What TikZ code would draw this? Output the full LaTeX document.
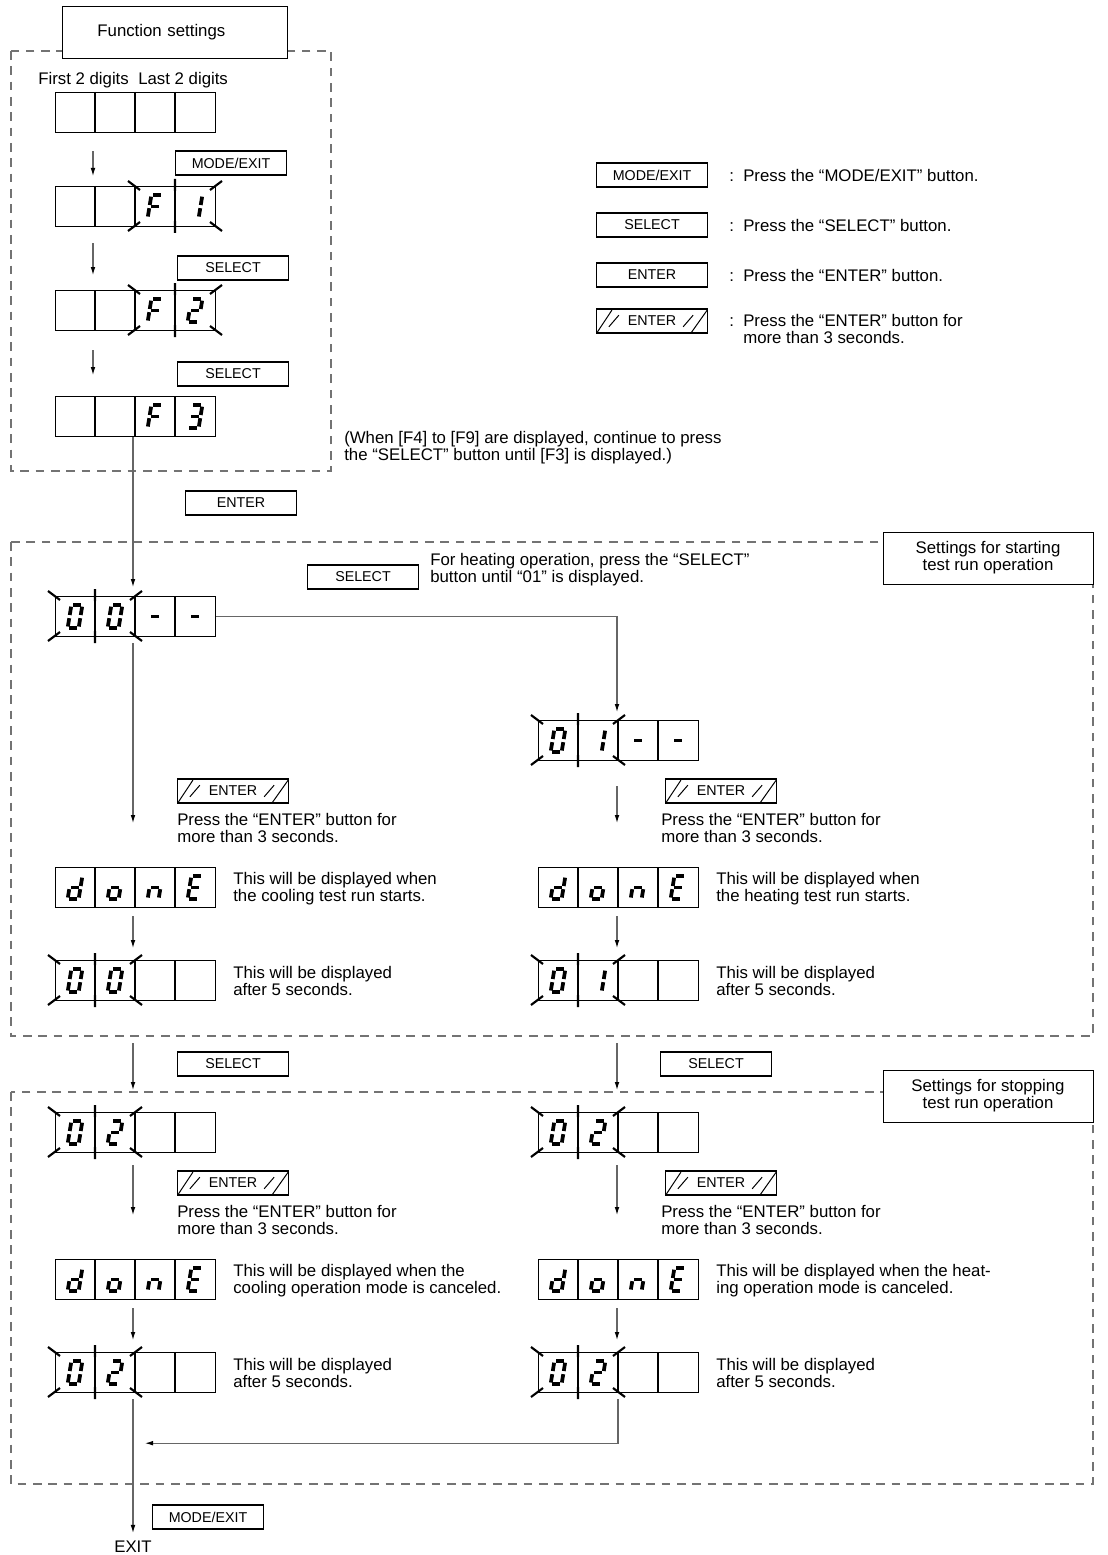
\documentclass[tikz,border=0pt]{standalone}
\usepackage{fontspec}
\setmainfont{Liberation Sans}
\usetikzlibrary{arrows.meta,calc,positioning}

\newcommand{\txtfont}{\fontsize{12.6}{12.9}\selectfont}
\newcommand{\btnfont}{\fontsize{10.7}{12}\selectfont}

% seven segment glyphs (segment end points)
\def\dgZero{TL/TR,TR/MR,MR/BR,BR/BL,BL/ML,ML/TL}
\def\dgOne{TR/MR,MR/BR}
\def\dgTwo{TL/TR,TR/MR,MR/ML,ML/BL,BL/BR}
\def\dgThree{TL/TR,TR/MR,ML/MR,MR/BR,BR/BL}
\def\dgF{TL/TR,TL/ML,ML/BL,ML/MR}
\def\dgDash{ML/MR}
\def\dgD{TR/MR,MR/BR,BR/BL,BL/ML,ML/MR}
\def\dgO{ML/MR,MR/BR,BR/BL,BL/ML}
\def\dgN{ML/MR,MR/BR,BL/ML}
\def\dgE{TL/TR,TL/ML,ML/MR,ML/BL,BL/BR}

\tikzset{
  dashbox/.style={draw=black!55, dash pattern=on 6.5pt off 5pt, line width=0.9pt},
  lcdbox/.style={draw, line width=0.9pt, minimum width=120pt, minimum height=30pt, inner sep=0pt, anchor=north west},
  cellline/.style={line width=0.9pt},
  seg/.style={line width=2.8pt, shorten <=1.2pt, shorten >=1.2pt},
  ray/.style={line width=1.6pt},
  btn/.style={draw, line width=1.2pt, minimum width=83pt, minimum height=18pt, inner sep=0pt, font=\btnfont},
  tagbox/.style={draw, line width=0.6pt, fill=white, font=\txtfont, align=center, inner sep=0pt},
  txt/.style={font=\txtfont, align=left, anchor=north west, inner sep=0pt},
  arr/.style={draw=black!60, line width=0.8pt, -{Latex[length=6pt,width=3.5pt,color=black]}},
  conn/.style={draw=black!60, line width=0.8pt},
}

% display with four cells
\newcommand{\lcd}[2]{%
  \node[lcdbox] (#1) at #2 {};
  \foreach \k in {1,2,3}
    \draw[cellline] ($(#1.north west)+(40*\k,0)$) -- ($(#1.south west)+(40*\k,0)$);
}
% one glyph in cell #2 of display #1
\newcommand{\lcddigit}[3]{%
  \begin{scope}[shift={($(#1.west)+(40*#2-20,0)$)}]
    \coordinate (TL) at (-3.6,-11.5);
    \coordinate (TR) at (7.4,-11.5);
    \coordinate (ML) at (-5.5,0);
    \coordinate (MR) at (5.5,0);
    \coordinate (BL) at (-7.4,11.5);
    \coordinate (BR) at (3.6,11.5);
    \foreach \p/\q in #3 {\draw[seg] (\p) -- (\q);}
  \end{scope}}
% blinking marks round two cells
\newcommand{\blink}[2]{%
  \begin{scope}[shift={($(#1.north west)+(#2,0)$)}]
    \draw[ray] (-7,-5) -- (5,4) (40,-7) -- (40,5) (87,-5) -- (75,4)
               (-7,45) -- (5,36) (40,47) -- (40,35) (87,45) -- (75,36);
  \end{scope}}
% ENTER held down
\newcommand{\hatchbtn}[2]{%
  \node[btn] (#1) at #2 {ENTER};
  \draw[line width=0.75pt] ($(#1.south west)+(1,-1)$) -- ($(#1.north west)+(16,2)$)
    ($(#1.south west)+(13,-7)$) -- ($(#1.north west)+(23,7)$)
    ($(#1.south east)+(-25,-7)$) -- ($(#1.north east)+(-15,7)$)
    ($(#1.south east)+(-17,-1)$) -- ($(#1.north east)+(-1,2)$);
}

\begin{document}
\begin{tikzpicture}[x=0.75pt,y=-0.75pt]
\useasboundingbox (0,0) rectangle (1107,1555);

% function settings
\draw[dashbox] (11,51) rectangle (331,471);
\node[tagbox, anchor=north west, minimum height=39pt, inner xsep=26.25pt, text width=116.25pt, align=left] (fs) at (62,6) {Function settings};
\node[txt, anchor=base west] (first) at (38,85) {First 2 digits};
\node[txt, anchor=base west] (last) at (138,85) {Last 2 digits};

\lcd{D0}{(55,92)}
\lcd{D1}{(55,186)} \lcddigit{D1}{3}{\dgF} \lcddigit{D1}{4}{\dgOne} \blink{D1}{80}
\lcd{D2}{(55,290)} \lcddigit{D2}{3}{\dgF} \lcddigit{D2}{4}{\dgTwo} \blink{D2}{80}
\lcd{D3}{(55,396)} \lcddigit{D3}{3}{\dgF} \lcddigit{D3}{4}{\dgThree}

\node[btn] (modeA) at (231,163) {MODE/EXIT};
\node[btn] (selA) at (233,268) {SELECT};
\node[btn] (selB) at (233,374) {SELECT};
\draw[arr] ($(D0.south west)+(38,18)$) -- ($(D1.north west)+(38,-10)$);
\draw[arr] ($(D1.south west)+(38,16)$) -- ($(D2.north west)+(38,-15)$);
\draw[arr] ($(D2.south west)+(38,19)$) -- ($(D3.north west)+(38,-21)$);
\node[txt] (note) at (344,431) {(When [F4] to [F9] are displayed, continue to press\\the “SELECT” button until [F3] is displayed.)};

% legend
\node[btn] (keyMode) at (652,175) {MODE/EXIT};
\node[btn] (keySel) at (652,225) {SELECT};
\node[btn] (keyEnt) at (652,275) {ENTER};
\hatchbtn{keyHold}{(652,321)}
\node[txt, anchor=west] (tMode) at (729,175) {:\ \ Press the “MODE/EXIT” button.};
\node[txt, anchor=west] (tSel) at (729,225) {:\ \ Press the “SELECT” button.};
\node[txt, anchor=west] (tEnt) at (729,275) {:\ \ Press the “ENTER” button.};
\node[txt, anchor=west] (tHold) at (729,329) {:\ \ Press the “ENTER” button for\\\hphantom{:\ \ }more than 3 seconds.};

% starting test run
\node[btn] (entA) at (241,503) {ENTER};
\draw[dashbox] (11,542) rectangle (1093,1036);
\node[tagbox, minimum width=157.5pt, minimum height=39pt] (startTag) at (988,558) {Settings for starting\\test run operation};
\node[btn] (selC) at (363,577) {SELECT};
\node[txt] (heatNote) at (430,553) {For heating operation, press the “SELECT”\\button until “01” is displayed.};

\lcd{S0}{(55,596)} \lcddigit{S0}{1}{\dgZero} \lcddigit{S0}{2}{\dgZero} \lcddigit{S0}{3}{\dgDash} \lcddigit{S0}{4}{\dgDash} \blink{S0}{0}
\lcd{S1}{(538,720)} \lcddigit{S1}{1}{\dgZero} \lcddigit{S1}{2}{\dgOne} \lcddigit{S1}{3}{\dgDash} \lcddigit{S1}{4}{\dgDash} \blink{S1}{0}
\draw[arr] ($(D3.south west)+(78,0)$) -- ($(S0.north west)+(78,-9)$);
\draw[arr] (S0.east) -| ($(S1.north west)+(79,-8)$);

\hatchbtn{holdA}{(233,791)}
\hatchbtn{holdB}{(721,791)}
\node[txt] (pressA) at (177,813) {Press the “ENTER” button for\\more than 3 seconds.};
\node[txt] (pressB) at (661,813) {Press the “ENTER” button for\\more than 3 seconds.};

\lcd{C0}{(55,867)} \lcddigit{C0}{1}{\dgD} \lcddigit{C0}{2}{\dgO} \lcddigit{C0}{3}{\dgN} \lcddigit{C0}{4}{\dgE}
\lcd{C1}{(538,867)} \lcddigit{C1}{1}{\dgD} \lcddigit{C1}{2}{\dgO} \lcddigit{C1}{3}{\dgN} \lcddigit{C1}{4}{\dgE}
\draw[arr] ($(S0.south west)+(78,6)$) -- ($(C0.north west)+(78,-44)$);
\draw[arr] ($(S1.south west)+(79,25)$) -- ($(C1.north west)+(79,-44)$);
\node[txt] (coolRun) at (233,872) {This will be displayed when\\the cooling test run starts.};
\node[txt] (heatRun) at (716,872) {This will be displayed when\\the heating test run starts.};

\lcd{R0}{(55,960)} \lcddigit{R0}{1}{\dgZero} \lcddigit{R0}{2}{\dgZero} \blink{R0}{0}
\lcd{R1}{(538,960)} \lcddigit{R1}{1}{\dgZero} \lcddigit{R1}{2}{\dgOne} \blink{R1}{0}
\draw[arr] ($(C0.south west)+(78,8)$) -- ($(R0.north west)+(78,-12)$);
\draw[arr] ($(C1.south west)+(79,8)$) -- ($(R1.north west)+(79,-12)$);
\node[txt] (waitA) at (233,966) {This will be displayed\\after 5 seconds.};
\node[txt] (waitB) at (716,966) {This will be displayed\\after 5 seconds.};

% stopping test run
\node[btn] (selD) at (233,1064) {SELECT};
\node[btn] (selE) at (716,1064) {SELECT};
\draw[dashbox] (11,1092) rectangle (1093,1484);
\node[tagbox, minimum width=157.5pt, minimum height=39pt] (stopTag) at (988,1096) {Settings for stopping\\test run operation};

\lcd{T0}{(55,1112)} \lcddigit{T0}{1}{\dgZero} \lcddigit{T0}{2}{\dgTwo} \blink{T0}{0}
\lcd{T1}{(538,1112)} \lcddigit{T1}{1}{\dgZero} \lcddigit{T1}{2}{\dgTwo} \blink{T1}{0}
\draw[arr] ($(R0.south west)+(78,42)$) -- ($(T0.north west)+(78,-22)$);
\draw[arr] ($(R1.south west)+(79,42)$) -- ($(T1.north west)+(79,-22)$);

\hatchbtn{holdC}{(233,1183)}
\hatchbtn{holdD}{(721,1183)}
\node[txt] (pressC) at (177,1205) {Press the “ENTER” button for\\more than 3 seconds.};
\node[txt] (pressD) at (661,1205) {Press the “ENTER” button for\\more than 3 seconds.};

\lcd{U0}{(55,1259)} \lcddigit{U0}{1}{\dgD} \lcddigit{U0}{2}{\dgO} \lcddigit{U0}{3}{\dgN} \lcddigit{U0}{4}{\dgE}
\lcd{U1}{(538,1259)} \lcddigit{U1}{1}{\dgD} \lcddigit{U1}{2}{\dgO} \lcddigit{U1}{3}{\dgN} \lcddigit{U1}{4}{\dgE}
\draw[arr] ($(T0.south west)+(78,12)$) -- ($(U0.north west)+(78,-44)$);
\draw[arr] ($(T1.south west)+(79,12)$) -- ($(U1.north west)+(79,-44)$);
\node[txt] (coolOff) at (233,1264) {This will be displayed when the\\cooling operation mode is canceled.};
\node[txt] (heatOff) at (716,1264) {This will be displayed when the heat-\\ing operation mode is canceled.};

\lcd{V0}{(55,1352)} \lcddigit{V0}{1}{\dgZero} \lcddigit{V0}{2}{\dgTwo} \blink{V0}{0}
\lcd{V1}{(538,1352)} \lcddigit{V1}{1}{\dgZero} \lcddigit{V1}{2}{\dgTwo} \blink{V1}{0}
\draw[arr] ($(U0.south west)+(78,8)$) -- ($(V0.north west)+(78,-12)$);
\draw[arr] ($(U1.south west)+(79,8)$) -- ($(V1.north west)+(79,-12)$);
\node[txt] (waitC) at (233,1358) {This will be displayed\\after 5 seconds.};
\node[txt] (waitD) at (716,1358) {This will be displayed\\after 5 seconds.};

% exit
\node[font=\txtfont, inner sep=0pt] (exit) at (133,1547) {EXIT};
\node[btn] (modeB) at (208,1517) {MODE/EXIT};
\draw[arr] ($(V1.south west)+(80,6)$) |- ($(V0.south west)+(90,50)$);
\draw[arr] ($(V0.south west)+(78,6)$) -- ($(exit.north)+(0,-8)$);
\end{tikzpicture}
\end{document}
